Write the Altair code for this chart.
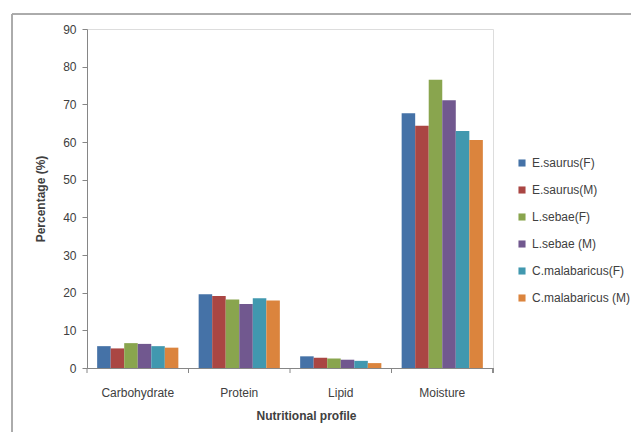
import altair as alt
import pandas as pd

categories = ["Carbohydrate", "Protein", "Lipid", "Moisture"]
series = ["E.saurus(F)", "E.saurus(M)", "L.sebae(F)", "L.sebae (M)", "C.malabaricus(F)", "C.malabaricus (M)"]
colors = ["#4572A7", "#AA4643", "#89A54E", "#71588F", "#4198AF", "#DB843D"]

carbohydrate = [5.8, 5.2, 6.6, 6.4, 5.8, 5.4]
protein = [19.6, 19.1, 18.2, 17.0, 18.5, 17.9]
lipid = [3.1, 2.7, 2.5, 2.2, 1.9, 1.3]
moisture = [67.6, 64.3, 76.5, 71.1, 62.9, 60.5]

values = [carbohydrate, protein, lipid, moisture]
rows = []
for c, vals in zip(categories, values):
    for s, v in zip(series, vals):
        rows.append({"category": c, "series": s, "value": v})
df = pd.DataFrame(rows)
cat_df = pd.DataFrame({"category": categories})

FONT = "Liberation Sans"
W, H = 406, 339

xscale = alt.Scale(domain=categories, paddingInner=0, paddingOuter=0)

bars = alt.Chart(df).mark_bar().encode(
    x=alt.X("category:N", scale=xscale, sort=categories,
            axis=alt.Axis(title="Nutritional profile", labelAngle=0, ticks=False,
                          domainColor="#868686", labelColor="#404040", labelFontSize=12,
                          labelFont=FONT, labelPadding=19, titleFont=FONT, titleFontSize=12,
                          titleFontWeight="bold", titleColor="#404040", titlePadding=12,
                          titleX=219, titleAnchor="start", titleAlign="center")),
    xOffset=alt.XOffset("series:N", sort=series,
                        scale=alt.Scale(paddingInner=0, paddingOuter=0.75)),
    y=alt.Y("value:Q", scale=alt.Scale(domain=[0, 90]),
            axis=alt.Axis(title="Percentage (%)", values=list(range(0, 91, 10)), grid=False,
                          tickSize=5, tickColor="#868686", domainColor="#868686",
                          labelColor="#404040", labelFontSize=12, labelFont=FONT,
                          labelPadding=6, titleFont=FONT, titleFontSize=12,
                          titleFontWeight="bold", titleColor="#404040", titlePadding=15)),
    color=alt.Color("series:N", sort=series, scale=alt.Scale(domain=series, range=colors),
                    legend=alt.Legend(title=None, orient="none", legendX=429, legendY=128,
                                      symbolType="square", symbolSize=50, symbolStrokeWidth=0,
                                      labelFont=FONT, labelFontSize=12, labelColor="#404040",
                                      rowPadding=15, labelOffset=4)),
)

ticks = alt.Chart(cat_df).mark_rule(color="#868686").encode(
    x=alt.X("category:N", sort=categories, bandPosition=0, scale=xscale),
    y=alt.value(H), y2=alt.value(H + 5),
)
end_tick = alt.Chart(cat_df).mark_rule(color="#868686").encode(
    x=alt.value(W), y=alt.value(H), y2=alt.value(H + 5),
)
frame_left = alt.Chart(cat_df).mark_rule(color="#A6A6A6").encode(
    x=alt.value(-75), y=alt.value(-15), y2=alt.value(H + 80),
)
frame_top = alt.Chart(cat_df).mark_rule(color="#A6A6A6").encode(
    x=alt.value(-75), x2=alt.value(W + 200), y=alt.value(-15),
)

chart = alt.layer(frame_left, frame_top, bars, ticks, end_tick).properties(
    width=W, height=H,
    autosize=alt.AutoSizeParams(type="none"),
    padding={"left": 79, "top": 21, "right": 138, "bottom": 64},
).configure_view(stroke=None).configure(background="white")

chart.save("out.html", embed_options={"renderer": "svg", "actions": False})
